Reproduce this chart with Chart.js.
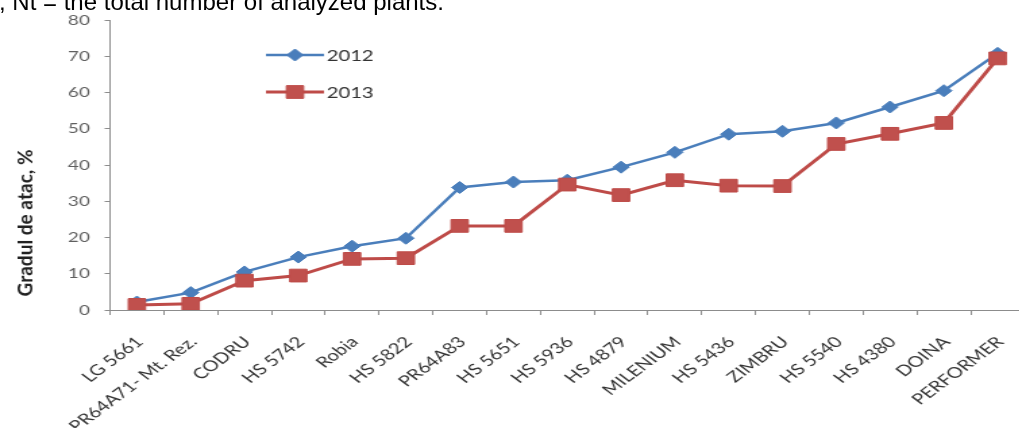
<!DOCTYPE html>
<html>
<head>
<meta charset="utf-8">
<script src="https://cdn.jsdelivr.net/npm/chart.js@4"></script>
<style>
  html, body { margin: 0; padding: 0; background: #fff; overflow: hidden; width: 1019px; height: 428px; }
  #note { position: absolute; left: -1px; top: -11px; font-family: "Liberation Sans", Arial, sans-serif; font-size: 24px; line-height: 25px; color: #000; white-space: nowrap; z-index: 2; }
  #wrap { position: absolute; left: 0; top: 0; width: 770px; height: 428px; transform: scaleX(1.35); transform-origin: 0 0; }
</style>
</head>
<body>
<div id="note">, Nt = the total number of analyzed plants.</div>
<div id="wrap"><canvas id="c" width="770" height="428"></canvas></div>
<script>
const categories = ['LG 5661', 'PR64A71- Mt. Rez.', 'CODRU', 'HS 5742', 'Robia', 'HS 5822', 'PR64A83', 'HS 5651', 'HS 5936', 'HS 4879', 'MILENIUM', 'HS 5436', 'ZIMBRU', 'HS 5540', 'HS 4380', 'DOINA', 'PERFORMER'];
const values2012 = [2.2, 4.8, 10.5, 14.6, 17.6, 19.8, 33.8, 35.3, 35.8, 39.4, 43.5, 48.5, 49.3, 51.6, 56.0, 60.5, 70.8];
const values2013 = [1.4, 1.7, 8.1, 9.5, 14.1, 14.3, 23.2, 23.2, 34.6, 31.7, 35.8, 34.3, 34.2, 45.8, 48.6, 51.6, 69.4];
const seriesNames = ['2012', '2013'];
const yTicks = [0, 10, 20, 30, 40, 50, 60, 70, 80];
const yTitle = 'Gradul de atac, %';

const BLUE = '#4A7EBB';
const RED = '#BE4B48';
const AXIS = '#8C8C8C';

const overlayPlugin = {
  id: 'overlay',
  afterDraw(chart) {
    const ctx = chart.ctx;
    // y axis title
    ctx.save();
    ctx.font = 'bold 15px Lato, sans-serif';
    ctx.fillStyle = '#222';
    const w = ctx.measureText(yTitle).width;
    ctx.translate(19, 223);
    ctx.rotate(-Math.PI / 2);
    ctx.scale(147 / w, 1);
    ctx.textAlign = 'center';
    ctx.textBaseline = 'middle';
    ctx.fillText(yTitle, 0, 0);
    ctx.restore();
    // legend inside plot
    const ys = [55, 92];
    chart.data.datasets.forEach((ds, i) => {
      const y = ys[i];
      ctx.save();
      ctx.strokeStyle = ds.borderColor;
      ctx.lineWidth = ds.borderWidth;
      ctx.beginPath();
      ctx.moveTo(197, y);
      ctx.lineTo(240, y);
      ctx.stroke();
      ctx.fillStyle = ds.pointBackgroundColor;
      ctx.strokeStyle = ds.pointBorderColor;
      ctx.lineWidth = 1;
      Chart.helpers.drawPoint(ctx, { pointStyle: ds.pointStyle, radius: ds.pointRadius, borderWidth: 1, rotation: 0 }, 218.5, y);
      ctx.font = '15px Lato, sans-serif';
      ctx.fillStyle = '#333';
      ctx.textAlign = 'left';
      ctx.textBaseline = 'middle';
      ctx.fillText(ds.label, 242, y + 1);
      ctx.restore();
    });
  }
};

new Chart(document.getElementById('c'), {
  type: 'line',
  data: {
    labels: categories,
    datasets: [
      {
        label: seriesNames[0],
        data: values2012,
        borderColor: BLUE,
        backgroundColor: BLUE,
        pointBackgroundColor: BLUE,
        pointBorderColor: BLUE,
        borderWidth: 2.5,
        pointStyle: 'rectRot',
        pointRadius: 6,
        pointBorderWidth: 1,
        tension: 0,
        order: 1
      },
      {
        label: seriesNames[1],
        data: values2013,
        borderColor: RED,
        backgroundColor: '#C0504D',
        pointBackgroundColor: '#C0504D',
        pointBorderColor: RED,
        borderWidth: 3,
        pointStyle: 'rect',
        pointRadius: 9,
        pointBorderWidth: 1,
        tension: 0,
        order: 0
      }
    ]
  },
  options: {
    responsive: false,
    animation: false,
    devicePixelRatio: 1,
    layout: { padding: { top: 20, right: 6, left: 0, bottom: 0 } },
    plugins: { legend: { display: false }, tooltip: { enabled: false } },
    scales: {
      x: {
        offset: true,
        grid: { display: true, drawOnChartArea: false, offset: true, tickLength: 5, color: AXIS },
        border: { display: true, color: AXIS, width: 1 },
        ticks: {
          autoSkip: false, minRotation: 45, maxRotation: 45, padding: 18, labelOffset: 2,
          color: '#333', font: { family: 'Lato', size: 15 }
        },
        afterFit(scale) { scale.height = 118; }
      },
      y: {
        min: 0, max: 80,
        afterBuildTicks(scale) { scale.ticks = yTicks.map(v => ({ value: v })); },
        grid: { display: true, drawOnChartArea: false, tickLength: 4, color: AXIS },
        border: { display: true, color: AXIS, width: 1 },
        ticks: { padding: 11, color: '#5f5f5f', font: { family: 'Lato', size: 14 } },
        afterFit(scale) { scale.width = 81.5; }
      }
    }
  },
  plugins: [overlayPlugin]
});
</script>
</body>
</html>
